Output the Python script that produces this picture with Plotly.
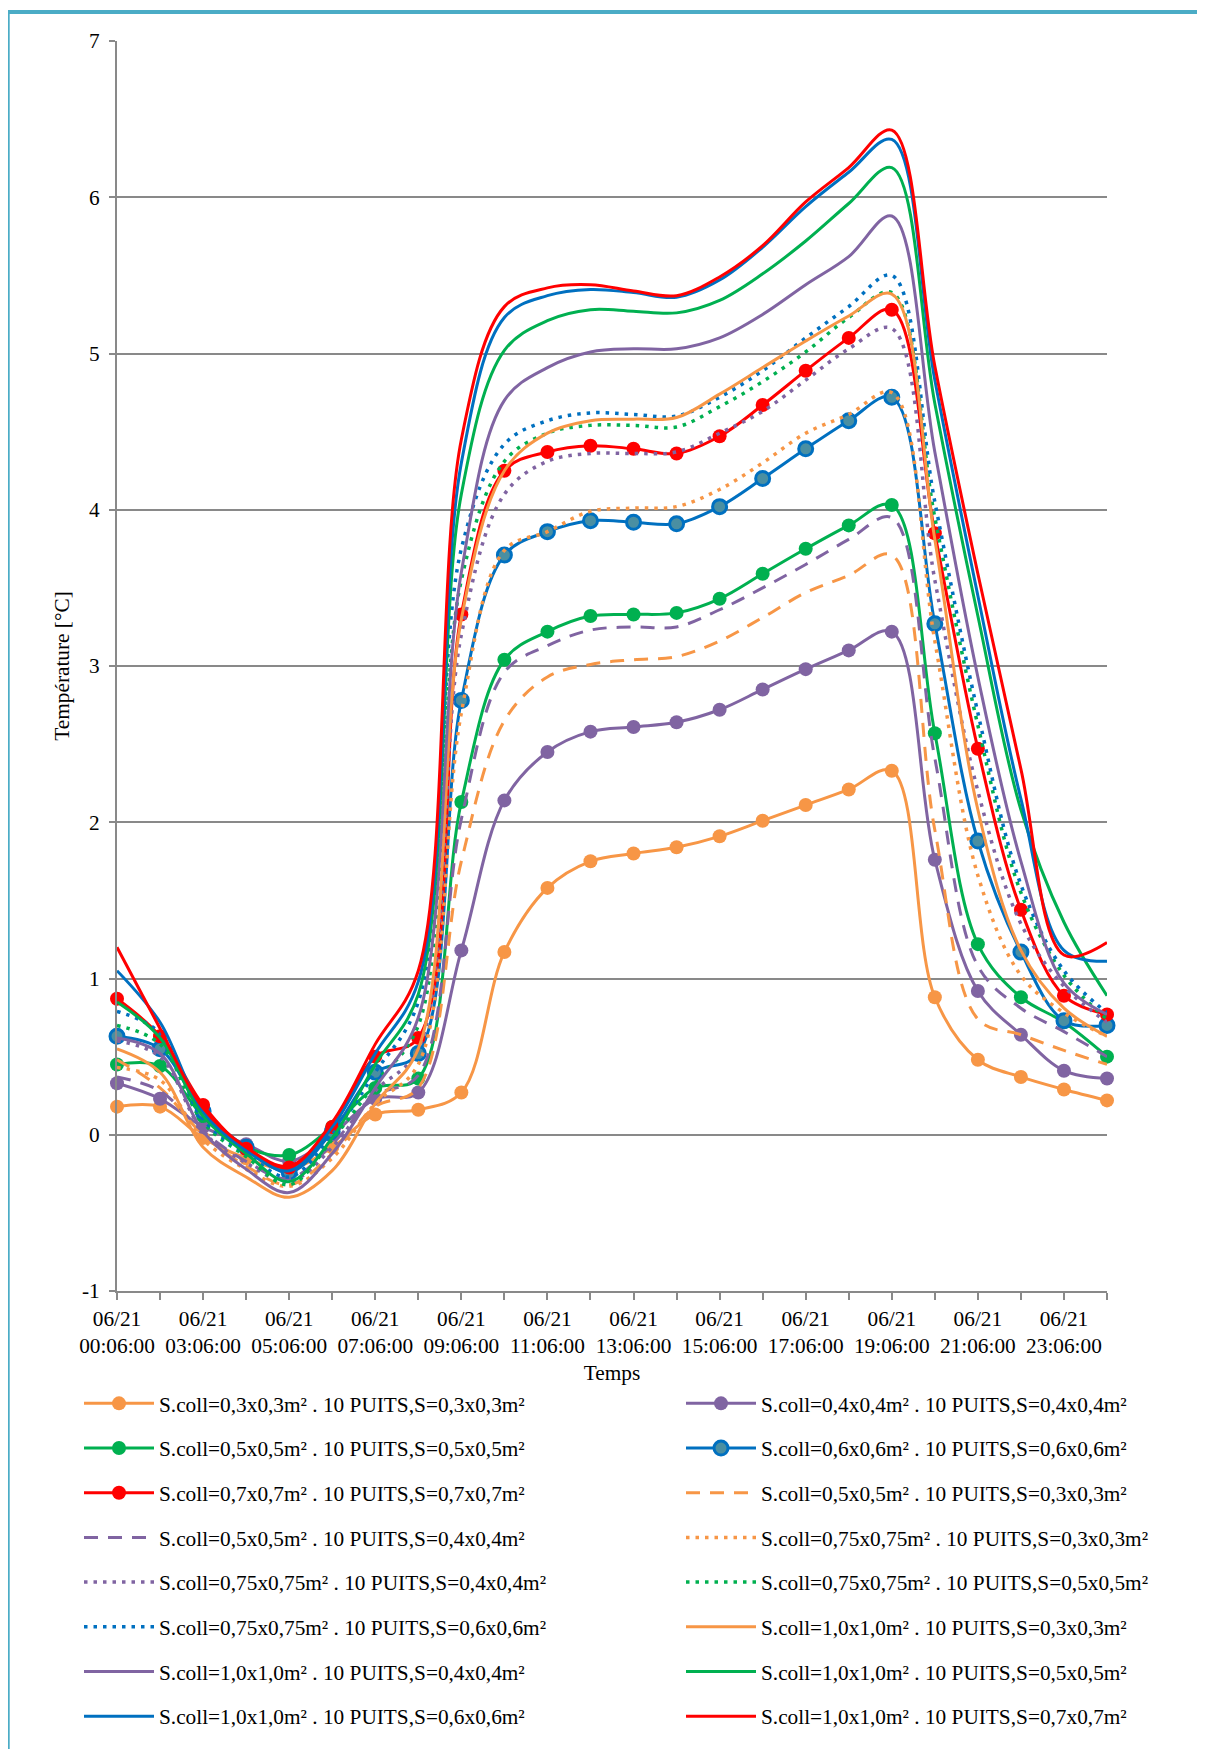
import plotly.graph_objects as go

# categories (hourly readings)
times = [
    "06/21 00:06:00", "06/21 02:06:00", "06/21 03:06:00", "06/21 04:06:00",
    "06/21 05:06:00", "06/21 06:06:00", "06/21 07:06:00", "06/21 08:06:00",
    "06/21 09:06:00", "06/21 10:06:00", "06/21 11:06:00", "06/21 12:06:00",
    "06/21 13:06:00", "06/21 14:06:00", "06/21 15:06:00", "06/21 16:06:00",
    "06/21 17:06:00", "06/21 18:06:00", "06/21 19:06:00", "06/21 20:06:00",
    "06/21 21:06:00", "06/21 22:06:00", "06/21 23:06:00", "06/22 00:06:00",
]
tick_text = [t.replace(" ", "<br>") if i % 2 == 0 else "" for i, t in enumerate(times)]

y_ticks = [-1, 0, 1, 2, 3, 4, 5, 6, 7]
y_tick_text = ["-1", "0", "1", "2", "3", "4", "5", "6", "7"]

# series values (°C)
c03_s03 = [0.18, 0.18, -0.02, -0.15, -0.22, -0.08, 0.13, 0.16, 0.27, 1.17, 1.58, 1.75,
           1.80, 1.84, 1.91, 2.01, 2.11, 2.21, 2.33, 0.88, 0.48, 0.37, 0.29, 0.22]
c04_s04 = [0.33, 0.23, 0.05, -0.06, -0.17, 0.00, 0.23, 0.27, 1.18, 2.14, 2.45, 2.58,
           2.61, 2.64, 2.72, 2.85, 2.98, 3.10, 3.22, 1.76, 0.92, 0.64, 0.41, 0.36]
c05_s05 = [0.45, 0.44, 0.12, -0.08, -0.13, 0.05, 0.30, 0.36, 2.13, 3.04, 3.22, 3.32,
           3.33, 3.34, 3.43, 3.59, 3.75, 3.90, 4.03, 2.57, 1.22, 0.88, 0.72, 0.50]
c06_s06 = [0.63, 0.55, 0.15, -0.08, -0.24, 0.02, 0.40, 0.52, 2.78, 3.71, 3.86, 3.93,
           3.92, 3.91, 4.02, 4.20, 4.39, 4.57, 4.72, 3.27, 1.88, 1.17, 0.73, 0.70]
c07_s07 = [0.87, 0.63, 0.19, -0.09, -0.21, 0.05, 0.50, 0.62, 3.33, 4.25, 4.37, 4.41,
           4.39, 4.36, 4.47, 4.67, 4.89, 5.10, 5.28, 3.85, 2.47, 1.44, 0.89, 0.77]
c05_s03 = [0.48, 0.30, 0.00, -0.20, -0.32, -0.12, 0.18, 0.30, 1.75, 2.65, 2.93, 3.01,
           3.04, 3.06, 3.16, 3.31, 3.47, 3.58, 3.71, 1.95, 0.74, 0.64, 0.54, 0.45]
c05_s04 = [0.37, 0.28, 0.02, -0.17, -0.28, -0.06, 0.25, 0.38, 2.02, 2.96, 3.13, 3.23,
           3.25, 3.25, 3.36, 3.50, 3.65, 3.81, 3.95, 2.41, 1.08, 0.81, 0.66, 0.50]
c075_s03 = [0.43, 0.35, -0.03, -0.22, -0.33, -0.15, 0.20, 0.45, 2.70, 3.74, 3.86, 3.99,
            4.01, 4.02, 4.13, 4.30, 4.49, 4.61, 4.75, 3.16, 1.66, 1.02, 0.78, 0.63]
c075_s04 = [0.60, 0.50, 0.02, -0.18, -0.30, -0.08, 0.28, 0.55, 3.20, 4.10, 4.31, 4.36,
            4.36, 4.37, 4.49, 4.63, 4.83, 5.03, 5.16, 3.55, 2.20, 1.35, 0.95, 0.72]
c075_s05 = [0.70, 0.58, 0.08, -0.14, -0.32, -0.03, 0.33, 0.70, 3.55, 4.31, 4.49, 4.54,
            4.54, 4.53, 4.66, 4.82, 5.01, 5.23, 5.39, 3.95, 2.62, 1.55, 1.02, 0.74]
c075_s06 = [0.79, 0.65, 0.10, -0.12, -0.27, 0.00, 0.40, 0.85, 3.75, 4.42, 4.57, 4.62,
            4.61, 4.60, 4.72, 4.89, 5.10, 5.30, 5.50, 4.05, 2.70, 1.60, 1.05, 0.78]
c10_s03 = [0.55, 0.40, -0.08, -0.27, -0.40, -0.23, 0.20, 0.55, 3.30, 4.25, 4.49, 4.57,
           4.58, 4.59, 4.74, 4.91, 5.08, 5.24, 5.38, 3.81, 2.08, 1.18, 0.81, 0.63]
c10_s04 = [0.62, 0.52, 0.02, -0.22, -0.37, -0.12, 0.30, 0.75, 3.60, 4.70, 4.91, 5.01,
           5.03, 5.03, 5.10, 5.25, 5.44, 5.62, 5.88, 4.37, 2.93, 1.75, 0.97, 0.77]
c10_s05 = [0.85, 0.62, 0.12, -0.12, -0.30, -0.02, 0.45, 0.90, 4.10, 5.02, 5.21, 5.28,
           5.27, 5.26, 5.34, 5.51, 5.72, 5.96, 6.19, 4.68, 3.32, 2.08, 1.36, 0.89]
c10_s06 = [1.05, 0.72, 0.15, -0.10, -0.23, 0.05, 0.52, 0.98, 4.30, 5.23, 5.37, 5.41,
           5.39, 5.36, 5.47, 5.68, 5.94, 6.16, 6.37, 4.83, 3.45, 2.15, 1.18, 1.11]
c10_s07 = [1.20, 0.68, 0.17, -0.08, -0.20, 0.08, 0.58, 1.05, 4.45, 5.30, 5.42, 5.44,
           5.40, 5.37, 5.49, 5.69, 5.97, 6.19, 6.43, 4.92, 3.59, 2.34, 1.15, 1.23]

ORANGE, PURPLE, GREEN, BLUE, RED = "#F79646", "#8064A2", "#00B050", "#0070C0", "#FF0000"
DOT = "3.5px,6px"
DASH = "14px,10px"

# (name, values, colour, kind)
series = [
    ("S.coll=0,3x0,3m² . 10 PUITS,S=0,3x0,3m²", c03_s03, ORANGE, "marker"),
    ("S.coll=0,4x0,4m² . 10 PUITS,S=0,4x0,4m²", c04_s04, PURPLE, "marker"),
    ("S.coll=0,5x0,5m² . 10 PUITS,S=0,5x0,5m²", c05_s05, GREEN, "marker"),
    ("S.coll=0,6x0,6m² . 10 PUITS,S=0,6x0,6m²", c06_s06, BLUE, "marker_ring"),
    ("S.coll=0,7x0,7m² . 10 PUITS,S=0,7x0,7m²", c07_s07, RED, "marker"),
    ("S.coll=0,5x0,5m² . 10 PUITS,S=0,3x0,3m²", c05_s03, ORANGE, "dash"),
    ("S.coll=0,5x0,5m² . 10 PUITS,S=0,4x0,4m²", c05_s04, PURPLE, "dash"),
    ("S.coll=0,75x0,75m² . 10 PUITS,S=0,3x0,3m²", c075_s03, ORANGE, "dot"),
    ("S.coll=0,75x0,75m² . 10 PUITS,S=0,4x0,4m²", c075_s04, PURPLE, "dot"),
    ("S.coll=0,75x0,75m² . 10 PUITS,S=0,5x0,5m²", c075_s05, GREEN, "dot"),
    ("S.coll=0,75x0,75m² . 10 PUITS,S=0,6x0,6m²", c075_s06, BLUE, "dot"),
    ("S.coll=1,0x1,0m² . 10 PUITS,S=0,3x0,3m²", c10_s03, ORANGE, "solid"),
    ("S.coll=1,0x1,0m² . 10 PUITS,S=0,4x0,4m²", c10_s04, PURPLE, "solid"),
    ("S.coll=1,0x1,0m² . 10 PUITS,S=0,5x0,5m²", c10_s05, GREEN, "solid"),
    ("S.coll=1,0x1,0m² . 10 PUITS,S=0,6x0,6m²", c10_s06, BLUE, "solid"),
    ("S.coll=1,0x1,0m² . 10 PUITS,S=0,7x0,7m²", c10_s07, RED, "solid"),
]

FONT = "Liberation Serif, Times New Roman, serif"
FS = 21.3

fig = go.Figure()
for i, (name, vals, color, kind) in enumerate(series):
    kw = dict(mode="lines")
    line = dict(color=color, width=3, shape="spline", smoothing=1)
    if kind == "marker":
        kw = dict(mode="lines+markers",
                  marker=dict(size=14, color=color, line=dict(width=0)))
    elif kind == "marker_ring":
        kw = dict(mode="lines+markers",
                  marker=dict(size=14, color="#4A8FA2", line=dict(color=color, width=3)))
    elif kind == "dash":
        line["dash"] = DASH
    elif kind == "dot":
        line["dash"] = DOT
        line["width"] = 3.5
    fig.add_trace(go.Scatter(
        x=times, y=vals, name=name, line=line, cliponaxis=False,
        legend="legend" if i % 2 == 0 else "legend2",
        legendgroup=f"g{i}", **kw,
    ))

# page has an 8px body margin; positions below are given in page pixels
OFF = 8
W, H = 1205 - OFF, 1749 - OFF
L, T = 117 - OFF, 41 - OFF
R = W - (1107 - OFF)
B = H - (1291 - OFF)
pw, ph = W - L - R, H - T - B


def px_x(x):
    return (x - OFF - L) / pw


def px_y(y):
    return (H - B - (y - OFF)) / ph


legend_common = dict(
    font=dict(family=FONT, size=FS, color="black"),
    orientation="v", tracegroupgap=14, itemwidth=70,
    bgcolor="rgba(0,0,0,0)", yanchor="top", xanchor="left",
)

fig.update_layout(
    width=W, height=H,
    margin=dict(l=L, r=R, t=T, b=B),
    paper_bgcolor="white", plot_bgcolor="white",
    font=dict(family=FONT, size=FS, color="black"),
    showlegend=True,
    legend=dict(x=px_x(79), y=px_y(1383), **legend_common),
    legend2=dict(x=px_x(681), y=px_y(1383), **legend_common),
    xaxis=dict(
        type="category",
        tickmode="array", tickvals=times, ticktext=tick_text,
        range=[0, len(times) - 1],
        showgrid=False, zeroline=False,
        showline=True, linecolor="#898989", linewidth=2,
        ticks="outside", ticklen=7, tickcolor="#898989", tickwidth=2,
        tickangle=0,
        tickfont=dict(family=FONT, size=FS),
        title=dict(text="Temps", font=dict(family=FONT, size=FS), standoff=8),
        automargin=False,
    ),
    yaxis=dict(
        range=[-1, 7], tickmode="array", tickvals=y_ticks, ticktext=y_tick_text,
        showgrid=True, gridcolor="#898989", gridwidth=2,
        zeroline=False,
        showline=True, linecolor="#898989", linewidth=2,
        ticks="outside", ticklen=6, tickcolor="#898989", tickwidth=2,
        ticklabelstandoff=5,
        tickfont=dict(family=FONT, size=FS),
        title=dict(text="Température [°C]", font=dict(family=FONT, size=FS), standoff=7),
        automargin=False,
    ),
    shapes=[dict(
        type="rect", xref="paper", yref="paper",
        x0=px_x(7.7), x1=px_x(1230), y0=px_y(1780), y1=px_y(12),
        line=dict(color="#4BACC6", width=4), fillcolor="rgba(0,0,0,0)",
        layer="above",
    )],
)

fig.write_html("out.html")
